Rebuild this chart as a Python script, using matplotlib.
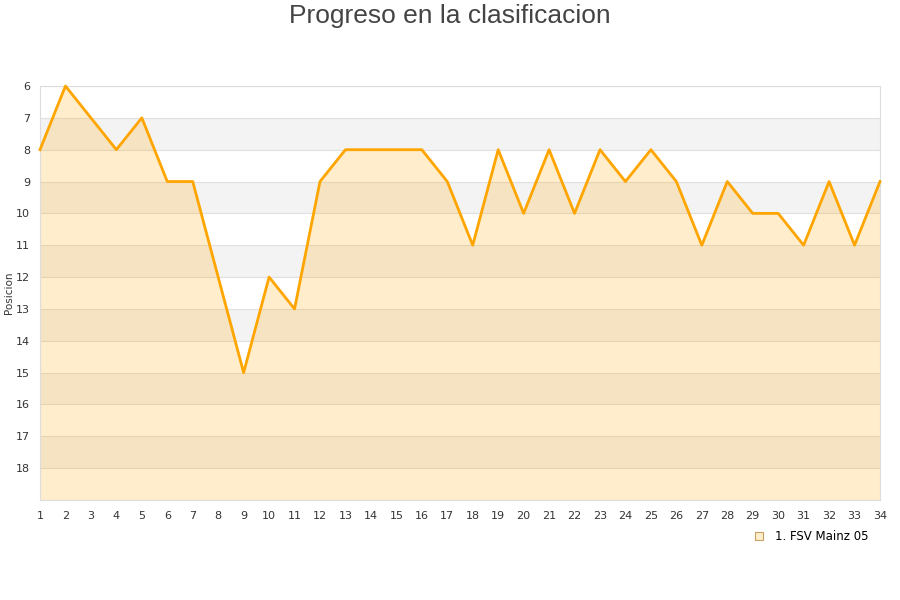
import matplotlib
matplotlib.use("Agg")
import matplotlib.pyplot as plt
from matplotlib.lines import Line2D

jornadas = list(range(1, 35))
posiciones = [8, 6, 7, 8, 7, 9, 9, 12, 15, 12, 13, 9, 8, 8, 8, 8, 9, 11,
              8, 10, 8, 10, 8, 9, 8, 9, 11, 9, 10, 10, 11, 9, 11, 9]
equipo = "1. FSV Mainz 05"
ticks_y = list(range(6, 19))

fig = plt.figure(figsize=(9, 6), dpi=100)
ax = fig.add_axes([40 / 900, 100 / 600, 840 / 900, 414 / 600])

# bandas alternas
for p in range(6, 19):
    if p % 2 == 1:
        ax.axhspan(p, p + 1, color="#f3f3f3", zorder=0, lw=0)
for p in range(6, 20):
    ax.axhline(p, color="#e0e0e0", lw=0.8, zorder=1)

ax.fill_between(jornadas, posiciones, 19, color="#ffa500", alpha=0.2, lw=0, zorder=2)
ax.plot(jornadas, posiciones, color="#ffa500", lw=2, zorder=3, clip_on=False)

ax.set_xlim(1, 34)
ax.set_ylim(19, 6)
ax.set_xticks(jornadas)
ax.set_yticks(ticks_y)
ax.tick_params(length=0, labelsize=8, colors="#333333", pad=8)
ax.tick_params(axis="y", pad=7)
for s in ax.spines.values():
    s.set_color("#dddddd")
ax.set_ylabel("Posicion", fontsize=7.5, color="#333333")
ax.yaxis.set_label_coords(-26 / 840, 0.5)

fig.suptitle("Progreso en la clasificacion", fontsize=19, color="#444444",
             y=0.993, family="Liberation Sans")

h = Line2D([], [], marker="s", ls="none", markersize=6,
           markerfacecolor="#ffeecc", markeredgecolor="#c8a060", markeredgewidth=0.8)
fig.legend([h], [equipo], loc="center", bbox_to_anchor=(808 / 900, 1 - 537 / 600),
           frameon=False, fontsize=8.5, handletextpad=0.4)

fig.savefig("out.png")
